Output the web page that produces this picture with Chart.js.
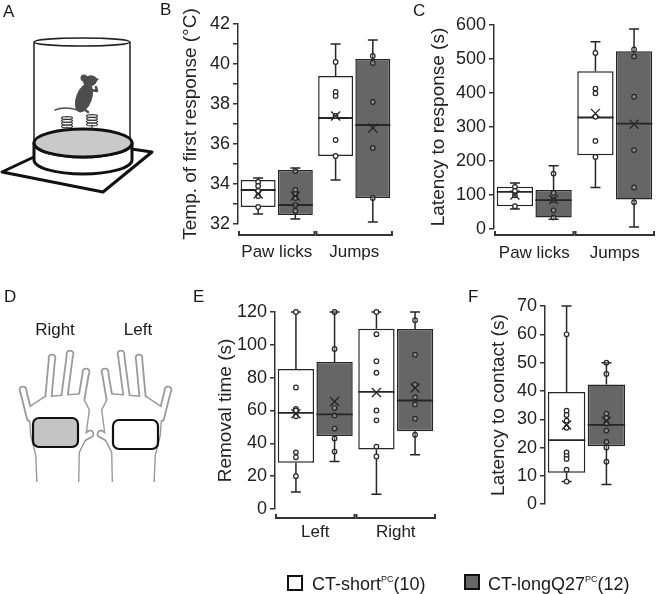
<!DOCTYPE html>
<html lang="en">
<head>
<meta charset="UTF-8">
<title>Thermal response and adhesive removal</title>
<script src="https://cdn.jsdelivr.net/npm/chart.js"></script>
<style>
  body { margin: 0; background: #fff; }
  #fig { position: relative; width: 666px; height: 594px; overflow: hidden;
         font-family: 'Liberation Sans', Arial, sans-serif; color: #1a1a1a; }
  #fig canvas { position: absolute; }
  .lbl { position: absolute; font-size: 17px; line-height: 17px; white-space: nowrap; }
  .mid { transform: translateX(-50%); }
  .key { position: absolute; width: 12px; height: 12px; border: 2px solid #111; }
  .legend { position: absolute; font-size: 18px; line-height: 18px; white-space: nowrap; }
  .legend sup { font-size: 9px; vertical-align: 8px; line-height: 0; }
</style>
</head>
<body>
<div id="fig">
  <canvas id="art" width="666" height="594" style="left:0;top:0"></canvas>
  <canvas id="chartB" width="223" height="264" style="left:175px;top:0"></canvas>
  <canvas id="chartC" width="235" height="269" style="left:423px;top:0"></canvas>
  <canvas id="chartE" width="229" height="255" style="left:210px;top:290px"></canvas>
  <canvas id="chartF" width="147" height="228" style="left:483px;top:290px"></canvas>

  <div class="lbl" style="left:3px;top:3px">A</div>
  <div class="lbl" style="left:160px;top:1px">B</div>
  <div class="lbl" style="left:413px;top:2px">C</div>
  <div class="lbl" style="left:4px;top:288px">D</div>
  <div class="lbl" style="left:193px;top:288px">E</div>
  <div class="lbl" style="left:468px;top:288px">F</div>
  <div class="lbl mid" style="left:55px;top:321px">Right</div>
  <div class="lbl mid" style="left:138px;top:321px">Left</div>

  <div class="key" style="left:287px;top:575px;background:#fff"></div>
  <div class="legend" style="left:312px;top:575px">CT-short<sup>PC</sup>(10)</div>
  <div class="key" style="left:464px;top:574px;background:#666"></div>
  <div class="legend" style="left:488px;top:575px">CT-longQ27<sup>PC</sup>(12)</div>
</div>

<script>
// ---- data ----
// B: temperature of first response (°C)
const bCats = ['Paw licks', 'Jumps'];
const bShortMin  = [32.5, 34.2];
const bShortQ1   = [32.85, 35.4];
const bShortMed  = [33.7, 37.3];
const bShortQ3   = [34.2, 39.4];
const bShortMax  = [34.3, 41.0];
const bShortMean = [33.5, 37.4];
const bShortPts  = [[34.1, 33.9, 33.65, 33.4, 32.85], [40.1, 38.6, 38.4, 37.4, 36.2, 35.4]];
const bLongMin   = [32.25, 32.1];
const bLongQ1    = [32.45, 33.3];
const bLongMed   = [32.95, 36.95];
const bLongQ3    = [34.7, 40.25];
const bLongMax   = [34.8, 41.2];
const bLongMean  = [33.4, 36.8];
const bLongPts   = [[34.65, 33.7, 33.5, 33.3, 32.95, 32.65], [40.4, 40.05, 38.1, 35.8, 33.3]];

// C: latency to response (s)
const cCats = ['Paw licks', 'Jumps'];
const cShortMin  = [59, 122];
const cShortQ1   = [67, 217];
const cShortMed  = [109, 328];
const cShortQ3   = [124, 464];
const cShortMax  = [135, 551];
const cShortMean = [100, 340];
const cShortPts  = [[124, 112, 99, 67], [518, 413, 399, 330, 259, 212]];
const cLongMin   = [29, 6];
const cLongQ1    = [34, 87];
const cLongMed   = [85, 310];
const cLongQ3    = [115, 523];
const cLongMax   = [186, 588];
const cLongMean  = [87, 308];
const cLongPts   = [[163, 106, 85, 55, 34], [528, 507, 389, 232, 122, 79]];

// E: removal time (s)
const eCats = ['Left', 'Right'];
const eShortMin  = [10.4, 9];
const eShortQ1   = [28.2, 36.3];
const eShortMed  = [58.6, 71.4];
const eShortQ3   = [85.3, 109.8];
const eShortMax  = [120, 120];
const eShortMean = [58, 71];
const eShortPts  = [[120, 74, 61, 60, 56.5, 34.5, 31.5, 20], [120, 106.5, 90, 83, 60, 54, 38, 32]];
const eLongMin   = [29, 33];
const eLongQ1    = [44.5, 47.3];
const eLongMed   = [57.6, 66.1];
const eLongQ3    = [89.5, 109.6];
const eLongMax   = [120, 120];
const eLongMean  = [65.5, 73.7];
const eLongPts   = [[120, 97.5, 61.5, 57, 49, 43, 35], [115, 94, 75.7, 68, 63.7, 55, 45.3]];

// F: latency to contact (s)
const fCats = [''];
const fShortMin  = [8];
const fShortQ1   = [11.1];
const fShortMed  = [22.6];
const fShortQ3   = [39.6];
const fShortMax  = [70];
const fShortMean = [28];
const fShortPts  = [[60, 33, 31.5, 29.5, 27, 18.3, 17, 16, 12.2, 8]];
const fLongMin   = [7];
const fLongQ1    = [20.5];
const fLongMed   = [28];
const fLongQ3    = [42.3];
const fLongMax   = [50];
const fLongMean  = [29.3];
const fLongPts   = [[50, 46, 32, 30.5, 28.5, 26, 22, 20, 15]];

// ---- box plot extras: whiskers, median, mean cross, points, category brackets ----
const INK = '#262626';
const boxExtras = {
  id: 'boxExtras',
  afterDatasetsDraw(chart) {
    const ctx = chart.ctx, y = chart.scales.y;
    chart.data.datasets.forEach((ds, di) => {
      chart.getDatasetMeta(di).data.forEach((bar, i) => {
        const x = bar.x, hw = bar.width / 2;
        const py = v => y.getPixelForValue(v);
        ctx.save();
        ctx.strokeStyle = INK;
        ctx.lineWidth = 1.5;
        // whiskers + caps
        ctx.beginPath();
        ctx.moveTo(x, py(ds.data[i][1])); ctx.lineTo(x, py(ds.hi[i]));
        ctx.moveTo(x - 5, py(ds.hi[i])); ctx.lineTo(x + 5, py(ds.hi[i]));
        ctx.moveTo(x, py(ds.data[i][0])); ctx.lineTo(x, py(ds.lo[i]));
        ctx.moveTo(x - 5, py(ds.lo[i])); ctx.lineTo(x + 5, py(ds.lo[i]));
        ctx.stroke();
        // median
        ctx.lineWidth = 1.8;
        ctx.beginPath();
        ctx.moveTo(x - hw, py(ds.med[i])); ctx.lineTo(x + hw, py(ds.med[i]));
        ctx.stroke();
        // points
        ctx.lineWidth = 1.2;
        ds.pts[i].forEach(v => {
          ctx.beginPath();
          ctx.arc(x, py(v), 2.3, 0, Math.PI * 2);
          ctx.fillStyle = ds.ptFill;
          ctx.fill();
          ctx.stroke();
        });
        // mean cross
        const m = py(ds.mean[i]);
        ctx.lineWidth = 1.3;
        ctx.beginPath();
        ctx.moveTo(x - 4.5, m - 4.5); ctx.lineTo(x + 4.5, m + 4.5);
        ctx.moveTo(x + 4.5, m - 4.5); ctx.lineTo(x - 4.5, m + 4.5);
        ctx.stroke();
        ctx.restore();
      });
    });
  },
  afterDraw(chart, args, opts) {
    if (opts.bracket == null) return;
    const ctx = chart.ctx, a = chart.chartArea;
    const n = chart.data.labels.length, w = (a.right - a.left) / n;
    const yb = a.bottom + opts.bracket;
    ctx.save();
    ctx.strokeStyle = '#333';
    ctx.lineWidth = 2;
    for (let i = 0; i < n; i++) {
      const l = a.left + i * w + 1, r = a.left + (i + 1) * w - 1;
      ctx.beginPath();
      ctx.moveTo(l, yb - 4); ctx.lineTo(l, yb); ctx.lineTo(r, yb); ctx.lineTo(r, yb - 4);
      ctx.stroke();
    }
    ctx.restore();
  }
};

const FONT = 'Liberation Sans';

function series(label, lo, q1, med, q3, hi, mean, pts, fill, ptFill) {
  return {
    label, data: q1.map((v, i) => [v, q3[i]]),
    lo, med, hi, mean, pts, ptFill,
    backgroundColor: fill, borderColor: INK, borderWidth: 1.5, borderSkipped: false,
    categoryPercentage: 0.96, barPercentage: 0.94
  };
}

function boxChart(id, labels, short, long, o) {
  return new Chart(document.getElementById(id), {
    type: 'bar',
    data: {
      labels,
      datasets: [
        series('CT-short', ...short, '#ffffff', '#ffffff'),
        series('CT-longQ27', ...long, '#666666', 'rgba(255,255,255,0.25)')
      ]
    },
    options: {
      responsive: false,
      animation: false,
      layout: { padding: { top: o.padTop, right: o.padRight, bottom: o.padBottom || 0, left: 0 } },
      plugins: {
        legend: { display: false },
        tooltip: { enabled: false },
        boxExtras: { bracket: o.bracket }
      },
      scales: {
        x: {
          display: o.showX,
          grid: { display: false, drawTicks: false },
          border: { display: false },
          ticks: { padding: o.labelPad, color: '#222', font: { family: 'Liberation Sans Narrow, Liberation Sans', size: 17 } },
          afterFit: s => { s.height = o.xHeight; }
        },
        y: {
          min: o.min, max: o.max,
          ticks: {
            stepSize: o.step, autoSkip: false, padding: 3, color: '#222',
            font: { family: FONT, size: 18 },
            callback: v => (o.labelEvery && v % o.labelEvery !== 0) ? '' : v
          },
          grid: { drawOnChartArea: false, drawTicks: true, tickLength: 5, color: '#333', lineWidth: 1.5 },
          border: { color: '#333', width: 1.5 },
          title: { display: true, text: o.title, color: '#222', font: { family: FONT, size: 19 }, padding: { top: 4, bottom: 4 } },
          afterFit: s => { s.width = o.axisWidth; }
        }
      }
    },
    plugins: [boxExtras]
  });
}

boxChart('chartB', bCats,
  [bShortMin, bShortQ1, bShortMed, bShortQ3, bShortMax, bShortMean, bShortPts],
  [bLongMin, bLongQ1, bLongMed, bLongQ3, bLongMax, bLongMean, bLongPts],
  { min: 32, max: 42, step: 1, labelEvery: 2, title: 'Temp. of first response (°C)',
    padTop: 24, padRight: 3, axisWidth: 63, xHeight: 40, labelPad: 18, bracket: 11, showX: true });

boxChart('chartC', cCats,
  [cShortMin, cShortQ1, cShortMed, cShortQ3, cShortMax, cShortMean, cShortPts],
  [cLongMin, cLongQ1, cLongMed, cLongQ3, cLongMax, cLongMean, cLongPts],
  { min: 0, max: 600, step: 100, title: 'Latency to response (s)',
    padTop: 25, padRight: 3, axisWidth: 71, xHeight: 40, labelPad: 14, bracket: 6, showX: true });

boxChart('chartE', eCats,
  [eShortMin, eShortQ1, eShortMed, eShortQ3, eShortMax, eShortMean, eShortPts],
  [eLongMin, eLongQ1, eLongMed, eLongQ3, eLongMax, eLongMean, eLongPts],
  { min: 0, max: 120, step: 20, title: 'Removal time (s)',
    padTop: 22, padRight: 3, axisWidth: 65, xHeight: 36, labelPad: 13, bracket: 9, showX: true });

boxChart('chartF', fCats,
  [fShortMin, fShortQ1, fShortMed, fShortQ3, fShortMax, fShortMean, fShortPts],
  [fLongMin, fLongQ1, fLongMed, fLongQ3, fLongMax, fLongMean, fLongPts],
  { min: 0, max: 70, step: 10, title: 'Latency to contact (s)',
    padTop: 16, padRight: 2, padBottom: 10, axisWidth: 62, xHeight: 0, labelPad: 0, bracket: null, showX: false });

// ---- illustrations (A: hot plate, D: hind paws) ----
const art = document.getElementById('art').getContext('2d');
art.lineJoin = 'round';
art.lineCap = 'round';

// A: base square
art.strokeStyle = '#111';
art.lineWidth = 3;
art.beginPath();
art.moveTo(2, 172); art.lineTo(103, 192); art.lineTo(152, 152); art.lineTo(70, 140); art.closePath();
art.stroke();
// glass cylinder
art.strokeStyle = '#222';
art.lineWidth = 1.5;
art.beginPath();
art.ellipse(82, 42, 48, 4, 0, 0, Math.PI * 2);
art.moveTo(34, 42); art.lineTo(34, 145);
art.moveTo(130, 42); art.lineTo(130, 145);
art.stroke();
// plate side and top
art.lineWidth = 3;
art.strokeStyle = '#111';
art.beginPath();
art.moveTo(34, 143); art.lineTo(34, 160);
art.ellipse(83, 160, 49, 14, 0, Math.PI, 0, true);
art.lineTo(132, 143);
art.ellipse(83, 143, 49, 14, 0, 0, Math.PI, false);
art.closePath();
art.fillStyle = '#fff';
art.fill();
art.stroke();
art.beginPath();
art.ellipse(83, 143, 49, 14, 0, 0, Math.PI * 2);
art.fillStyle = '#c9c9c9';
art.fill();
art.stroke();
// mouse
art.fillStyle = '#4d4d4d';
art.beginPath(); art.ellipse(84, 98, 8, 15, 0.35, 0, Math.PI * 2); art.fill();
art.beginPath(); art.ellipse(90, 81, 7, 5.5, -0.3, 0, Math.PI * 2); art.fill();
art.beginPath(); art.arc(84, 78, 3.5, 0, Math.PI * 2); art.fill();
art.beginPath(); art.moveTo(94, 77); art.lineTo(99, 79); art.lineTo(94, 84); art.fill();
art.strokeStyle = '#4d4d4d';
art.lineWidth = 2.5;
art.beginPath(); art.moveTo(90, 90); art.lineTo(97, 91); art.lineTo(96, 87); art.stroke();
art.beginPath(); art.moveTo(82, 108); art.lineTo(88, 112); art.stroke();
art.lineWidth = 1.5;
art.beginPath(); art.moveTo(78, 110); art.quadraticCurveTo(64, 106, 55, 110); art.stroke();
// springs
art.strokeStyle = '#333';
art.lineWidth = 1.1;
[[67, 118], [92, 116]].forEach(([cx, cy]) => {
  for (let k = 0; k < 4; k++) {
    art.beginPath(); art.ellipse(cx, cy + k * 2.8, 5.5, 1.4, 0, 0, Math.PI * 2); art.stroke();
  }
  art.beginPath(); art.moveTo(cx, cy + 9); art.lineTo(cx, cy + 13); art.stroke();
});

// D: hands, outline made by a wide grey pass then a narrower white pass
function drawHand(mirror, padFill) {
  const X = x => mirror ? 191 - x : x;
  const palm = [[30, 408], [45, 398], [80, 395], [88, 410], [84, 440], [78, 452], [77, 500], [39, 500], [37, 455], [32, 435]];
  const fingers = [[[30, 418], [23, 390]], [[48, 402], [52, 358]], [[64, 400], [70, 354]], [[80, 407], [86, 372]], [[80, 440], [90, 434]]];
  art.save();
  art.beginPath(); art.rect(0, 340, 200, 142); art.clip();
  [['#9a9a9a', 8, 4, 4.3], ['#ffffff', 4.4, 1.2, 2.5]].forEach(([col, fw, pw, tr]) => {
    art.strokeStyle = col; art.fillStyle = col;
    art.lineWidth = fw;
    fingers.forEach(([b, t]) => {
      art.beginPath(); art.moveTo(X(b[0]), b[1]); art.lineTo(X(t[0]), t[1]); art.stroke();
      art.beginPath(); art.arc(X(t[0]), t[1], tr, 0, Math.PI * 2); art.fill();
    });
    art.beginPath();
    palm.forEach(([x, y], i) => i ? art.lineTo(X(x), y) : art.moveTo(X(x), y));
    art.closePath();
    art.lineWidth = pw;
    art.fill(); art.stroke();
  });
  art.restore();
  const l = Math.min(X(33), X(78));
  art.beginPath();
  art.roundRect(l, mirror ? 420 : 418, 45, 29, 6);
  art.fillStyle = padFill;
  art.fill();
  art.strokeStyle = '#111';
  art.lineWidth = 2.2;
  art.stroke();
}
drawHand(false, '#c4c4c4');
drawHand(true, '#ffffff');
</script>
</body>
</html>
